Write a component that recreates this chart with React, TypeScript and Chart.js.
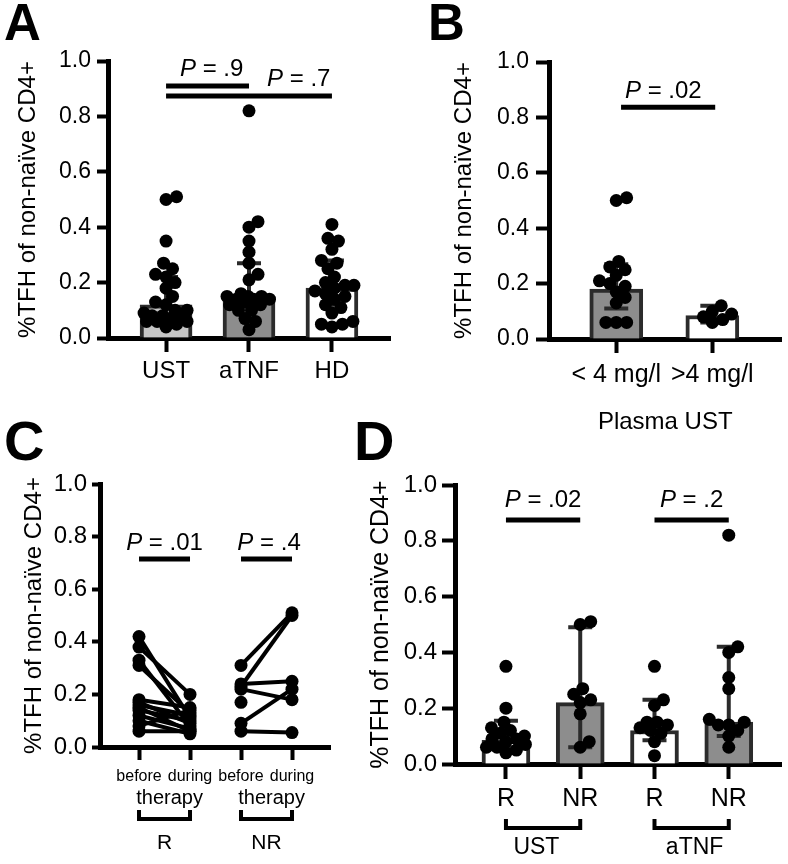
import React, { useEffect, useRef } from "react";
import { Chart, registerables } from "chart.js";

Chart.register(...registerables);

const FONT = "'Liberation Sans', Arial, Helvetica, sans-serif";
const CW = 788;
const CH = 864;

// ---------- shared axis ----------
const Y_TICKS = [0, 0.2, 0.4, 0.6, 0.8, 1.0];
const Y_TICK_LABELS = ["0.0", "0.2", "0.4", "0.6", "0.8", "1.0"];
const Y_TITLE = "%TFH of non-naïve CD4+";

// ---------- Panel A ----------
const A_CATEGORIES = ["UST", "aTNF", "HD"];
const A_UST = [0.51, 0.5, 0.35, 0.27, 0.25, 0.23, 0.22, 0.2, 0.18, 0.15, 0.13, 0.12, 0.1, 0.1, 0.09, 0.08, 0.08, 0.07, 0.07, 0.06, 0.06, 0.06, 0.05, 0.04];
const A_ATNF = [0.82, 0.42, 0.4, 0.35, 0.31, 0.27, 0.23, 0.21, 0.16, 0.15, 0.15, 0.15, 0.14, 0.14, 0.14, 0.13, 0.12, 0.12, 0.1, 0.1, 0.07, 0.06, 0.03];
const A_HD = [0.41, 0.36, 0.35, 0.32, 0.28, 0.27, 0.25, 0.22, 0.2, 0.19, 0.19, 0.18, 0.17, 0.16, 0.15, 0.14, 0.12, 0.11, 0.09, 0.06, 0.05, 0.05, 0.04];
const A_MEDIAN = [0.12, 0.15, 0.18];
const A_Q1 = [0.06, 0.12, 0.12];
const A_Q3 = [0.22, 0.27, 0.28];
const A_P_VALUES = [".9", ".7"];

// ---------- Panel B ----------
const B_CATEGORIES = ["< 4 mg/l", ">4 mg/l"];
const B_X_TITLE = "Plasma UST";
const B_LT4 = [0.51, 0.5, 0.28, 0.26, 0.25, 0.23, 0.21, 0.2, 0.19, 0.17, 0.15, 0.13, 0.06, 0.06, 0.06];
const B_GT4 = [0.12, 0.1, 0.09, 0.08, 0.07, 0.06];
const B_MEDIAN = [0.18, 0.085];
const B_Q1 = [0.11, 0.06];
const B_Q3 = [0.27, 0.12];
const B_P_VALUES = [".02"];

// ---------- Panel C ----------
const C_CATEGORIES = ["before", "during", "before", "during"];
const C_SUBLABEL = "therapy";
const C_GROUPS = ["R", "NR"];
const C_R_BEFORE = [0.42, 0.38, 0.33, 0.31, 0.18, 0.17, 0.16, 0.15, 0.14, 0.12, 0.1, 0.08, 0.06];
const C_R_DURING = [0.11, 0.2, 0.08, 0.13, 0.15, 0.09, 0.12, 0.06, 0.1, 0.07, 0.05, 0.14, 0.06];
const C_NR_BEFORE = [0.31, 0.23, 0.24, 0.22, 0.17, 0.09, 0.06];
const C_NR_DURING: (number | null)[] = [0.51, 0.5, 0.25, 0.18, null, 0.22, 0.055];
const C_P_VALUES = [".01", ".4"];

// ---------- Panel D ----------
const D_CATEGORIES = ["R", "NR", "R", "NR"];
const D_GROUPS = ["UST", "aTNF"];
const D_UST_R = [0.35, 0.2, 0.15, 0.13, 0.12, 0.11, 0.1, 0.09, 0.09, 0.08, 0.07, 0.06, 0.06, 0.05, 0.04];
const D_UST_NR = [0.51, 0.5, 0.27, 0.25, 0.23, 0.22, 0.18, 0.08, 0.06];
const D_ATNF_R = [0.35, 0.23, 0.21, 0.15, 0.15, 0.14, 0.13, 0.12, 0.11, 0.08, 0.03];
const D_ATNF_NR = [0.82, 0.42, 0.4, 0.31, 0.27, 0.16, 0.15, 0.14, 0.14, 0.12, 0.1, 0.06];
const D_MEDIAN = [0.085, 0.22, 0.12, 0.15];
const D_Q1 = [0.06, 0.06, 0.085, 0.1];
const D_Q3 = [0.155, 0.49, 0.23, 0.42];
const D_P_VALUES = [".02", ".2"];

// ---------- styles ----------
const BAR_BORDER = "#2b2b2b";
const ERR_COLOR = "#2b2b2b";
const LIGHT = "#c6c6c6";
const GRAY = "#8d8d8d";
const WHITE = "#ffffff";

type Geo = {
  left: number; top: number; right: number; bottom: number;
  yW: number; xH: number; xmin: number; xmax: number;
  yTL: number; yPad: number; yFont: number;
  xTL: number; xPad: number; xFont: number;
  titleSize: number; titlePad: number; barW: number;
};
type Sig = { x1: number; x2: number; y: number; tx: number; gap: number; label: string };
type Bracket = { x1: number; x2: number; y: number; h: number; label: string; tx: number; labelY: number; size: number };
type SubLabel = { tx: number; y: number; text: string; size: number };
type Letter = { text: string; x: number; y: number; size: number };

// beeswarm layout: bounded horizontal spread, points may overlap when crowded
function swarmOffsets(values: number[], pxPerX: number, pxPerY: number, minDist: number, maxOff: number): number[] {
  const order = values.map((_, i) => i).sort((a, b) => values[a] - values[b] || a - b);
  const cands: number[] = [0];
  for (let s = 0.5; s <= maxOff; s += 0.5) cands.push(s, -s);
  const placed: { x: number; y: number }[] = [];
  const out = new Array(values.length).fill(0);
  for (const i of order) {
    const y = values[i] * pxPerY;
    let chosen = 0;
    let bestD = -1;
    for (const c of cands) {
      let d = Infinity;
      for (const p of placed) d = Math.min(d, Math.hypot(p.x - c, p.y - y));
      if (d >= minDist) { chosen = c; bestD = d; break; }
      if (d > bestD + 0.01) { bestD = d; chosen = c; }
    }
    placed.push({ x: chosen, y });
    out[i] = chosen / pxPerX;
  }
  return out;
}

function extrasPlugin(spec: {
  letter: Letter; sigs: Sig[]; brackets?: Bracket[]; subs?: SubLabel[];
  errors?: { median: number[]; q1: number[]; q3: number[] };
}) {
  return {
    id: "extras",
    afterDatasetDraw(chart: any, args: any) {
      if (!spec.errors || args.meta.type !== "bar") return;
      const ctx = chart.ctx;
      const xs = chart.scales.x;
      const ys = chart.scales.y;
      ctx.save();
      ctx.strokeStyle = ERR_COLOR;
      ctx.lineWidth = 4;
      spec.errors.median.forEach((_, i) => {
        const x = xs.getPixelForValue(i + 1);
        const lo = ys.getPixelForValue(spec.errors!.q1[i]);
        const hi = ys.getPixelForValue(spec.errors!.q3[i]);
        ctx.beginPath();
        ctx.moveTo(x, lo);
        ctx.lineTo(x, hi);
        ctx.moveTo(x - 12, hi);
        ctx.lineTo(x + 12, hi);
        ctx.moveTo(x - 12, lo);
        ctx.lineTo(x + 12, lo);
        ctx.stroke();
      });
      ctx.restore();
    },
    afterDraw(chart: any) {
      const ctx = chart.ctx;
      const xs = chart.scales.x;
      const ys = chart.scales.y;
      ctx.save();
      ctx.fillStyle = "#000";
      ctx.strokeStyle = "#000";
      ctx.textBaseline = "alphabetic";
      // panel letter
      ctx.font = `bold ${spec.letter.size}px ${FONT}`;
      ctx.textAlign = "left";
      ctx.fillText(spec.letter.text, spec.letter.x, spec.letter.y);
      // significance bars
      for (const s of spec.sigs) {
        const x1 = xs.getPixelForValue(s.x1);
        const x2 = xs.getPixelForValue(s.x2);
        const y = ys.getPixelForValue(s.y);
        ctx.lineWidth = 5;
        ctx.beginPath();
        ctx.moveTo(x1, y);
        ctx.lineTo(x2, y);
        ctx.stroke();
        const it = `italic 24px ${FONT}`;
        const rg = `24px ${FONT}`;
        const rest = " = " + s.label;
        ctx.font = it;
        const wP = ctx.measureText("P").width;
        ctx.font = rg;
        const wR = ctx.measureText(rest).width;
        const cx = xs.getPixelForValue(s.tx);
        const start = cx - (wP + wR) / 2;
        ctx.textAlign = "left";
        ctx.font = it;
        ctx.fillText("P", start, y - s.gap);
        ctx.font = rg;
        ctx.fillText(rest, start + wP, y - s.gap);
      }
      // sub labels
      for (const t of spec.subs || []) {
        ctx.font = `${t.size}px ${FONT}`;
        ctx.textAlign = "center";
        ctx.fillText(t.text, xs.getPixelForValue(t.tx), t.y);
      }
      // brackets
      for (const b of spec.brackets || []) {
        const x1 = xs.getPixelForValue(b.x1);
        const x2 = xs.getPixelForValue(b.x2);
        ctx.lineWidth = 4;
        ctx.lineJoin = "miter";
        ctx.beginPath();
        ctx.moveTo(x1, b.y - b.h);
        ctx.lineTo(x1, b.y);
        ctx.lineTo(x2, b.y);
        ctx.lineTo(x2, b.y - b.h);
        ctx.stroke();
        ctx.font = `${b.size}px ${FONT}`;
        ctx.textAlign = "center";
        ctx.fillText(b.label, xs.getPixelForValue(b.tx), b.labelY);
      }
      ctx.restore();
    },
  };
}

function baseOptions(g: Geo, cats: string[], xTitle?: { text: string; size: number; pad: number }) {
  return {
    responsive: false,
    animation: false,
    devicePixelRatio: 1,
    events: [],
    layout: {
      padding: { left: g.left - g.yW, top: g.top, right: CW - g.right, bottom: CH - g.bottom - g.xH },
    },
    plugins: { legend: { display: false }, tooltip: { enabled: false }, title: { display: false } },
    scales: {
      x: {
        type: "linear",
        min: g.xmin,
        max: g.xmax,
        offset: false,
        afterFit: (s: any) => { s.height = g.xH; },
        afterBuildTicks: (s: any) => { s.ticks = cats.map((_, i) => ({ value: i + 1 })); },
        ticks: {
          callback: (_v: any, i: number) => cats[i],
          autoSkip: false,
          maxRotation: 0,
          minRotation: 0,
          padding: g.xPad,
          color: "#000",
          font: { family: FONT, size: g.xFont },
        },
        grid: { display: true, drawOnChartArea: false, drawTicks: true, tickLength: g.xTL, tickWidth: 4, tickColor: "#000", offset: false },
        border: { display: true, width: 5, color: "#000" },
        title: xTitle
          ? { display: true, text: xTitle.text, color: "#000", font: { family: FONT, size: xTitle.size }, padding: { top: 0, bottom: xTitle.pad } }
          : { display: false },
      },
      y: {
        type: "linear",
        min: 0,
        max: 1,
        afterFit: (s: any) => { s.width = g.yW; },
        afterBuildTicks: (s: any) => { s.ticks = Y_TICKS.map((v) => ({ value: v })); },
        ticks: {
          callback: (_v: any, i: number) => Y_TICK_LABELS[i],
          padding: g.yPad,
          color: "#000",
          font: { family: FONT, size: g.yFont },
        },
        grid: { display: true, drawOnChartArea: false, drawTicks: true, tickLength: g.yTL, tickWidth: 4, tickColor: "#000" },
        border: { display: true, width: 5, color: "#000" },
        title: {
          display: true,
          text: Y_TITLE,
          color: "#000",
          font: { family: FONT, size: g.titleSize },
          padding: { top: g.titlePad, bottom: 0 },
        },
      },
    },
  };
}

function barPanel(o: {
  cats: string[]; groups: number[][]; median: number[]; q1: number[]; q3: number[]; fills: string[];
  g: Geo; sigs: Sig[]; letter: Letter; brackets?: Bracket[]; xTitle?: { text: string; size: number; pad: number };
}) {
  const pxX = (o.g.right - o.g.left) / (o.g.xmax - o.g.xmin);
  const pxY = o.g.bottom - o.g.top;
  const points = o.groups.flatMap((vals, gi) => {
    const offs = swarmOffsets(vals, pxX, pxY, 10.5, o.g.barW / 2 - 4);
    return vals.map((v, i) => ({ x: gi + 1 + offs[i], y: v }));
  });
  return {
    type: "scatter",
    data: {
      datasets: [
        {
          type: "bar",
          data: o.median.map((m, i) => ({ x: i + 1, y: m })),
          backgroundColor: o.fills,
          borderColor: BAR_BORDER,
          borderWidth: 4,
          borderSkipped: "start",
          barThickness: o.g.barW,
          order: 2,
        },
        {
          type: "scatter",
          data: points,
          pointRadius: 6.5,
          pointBackgroundColor: "#000",
          pointBorderWidth: 0,
          order: 1,
        },
      ],
    },
    options: baseOptions(o.g, o.cats, o.xTitle),
    plugins: [
      extrasPlugin({ letter: o.letter, sigs: o.sigs, brackets: o.brackets, errors: { median: o.median, q1: o.q1, q3: o.q3 } }),
    ],
  };
}

// ---------- geometry ----------
const GEO_A: Geo = { left: 108, top: 61, right: 390, bottom: 338, yW: 100, xH: 60, xmin: 0.3, xmax: 3.7, yTL: 11, yPad: 6, yFont: 23, xTL: 14, xPad: 5, xFont: 24, titleSize: 24, titlePad: 5.6, barW: 52 };
const GEO_B: Geo = { left: 549, top: 62, right: 784, bottom: 339, yW: 100, xH: 100, xmin: 0.3, xmax: 2.72, yTL: 13, yPad: 7, yFont: 23, xTL: 14, xPad: 7, xFont: 25, titleSize: 24, titlePad: 0.6, barW: 53 };
const GEO_C: Geo = { left: 100, top: 484, right: 330, bottom: 747, yW: 81, xH: 60, xmin: 0.235, xmax: 4.745, yTL: 8, yPad: 5, yFont: 24, xTL: 13, xPad: 7, xFont: 16, titleSize: 24, titlePad: 0.6, barW: 0 };
const GEO_D: Geo = { left: 455, top: 485, right: 782, bottom: 764, yW: 90, xH: 60, xmin: 0.314, xmax: 4.71, yTL: 13, yPad: 5, yFont: 24, xTL: 15, xPad: 5, xFont: 25, titleSize: 25, titlePad: 1, barW: 48 };

function makeA() {
  return barPanel({
    cats: A_CATEGORIES,
    groups: [A_UST, A_ATNF, A_HD],
    median: A_MEDIAN, q1: A_Q1, q3: A_Q3,
    fills: [LIGHT, GRAY, WHITE],
    g: GEO_A,
    letter: { text: "A", x: 4, y: 40, size: 51 },
    sigs: [
      { x1: 1, x2: 2, y: 0.91, tx: 1.55, gap: 10, label: A_P_VALUES[0] },
      { x1: 1, x2: 3, y: 0.874, tx: 2.6, gap: 10, label: A_P_VALUES[1] },
    ],
  });
}

function makeB() {
  return barPanel({
    cats: B_CATEGORIES,
    groups: [B_LT4, B_GT4],
    median: B_MEDIAN, q1: B_Q1, q3: B_Q3,
    fills: [GRAY, WHITE],
    g: GEO_B,
    letter: { text: "B", x: 428, y: 40, size: 51 },
    sigs: [{ x1: 1.05, x2: 2.03, y: 0.837, tx: 1.49, gap: 9, label: B_P_VALUES[0] }],
    xTitle: { text: B_X_TITLE, size: 24, pad: 2.6 },
  });
}

function makeC() {
  const g = GEO_C;
  const pairs = [
    ...C_R_BEFORE.map((b, i) => [{ x: 1, y: b }, { x: 2, y: C_R_DURING[i] }]),
    ...C_NR_BEFORE.map((b, i) =>
      C_NR_DURING[i] == null ? [{ x: 3, y: b }] : [{ x: 3, y: b }, { x: 4, y: C_NR_DURING[i] as number }]
    ),
  ];
  return {
    type: "scatter",
    data: {
      datasets: pairs.map((p) => ({
        type: "scatter",
        showLine: true,
        data: p,
        borderColor: "#000",
        borderWidth: 4,
        pointRadius: 6.5,
        pointBackgroundColor: "#000",
        pointBorderWidth: 0,
      })),
    },
    options: baseOptions(g, C_CATEGORIES),
    plugins: [
      extrasPlugin({
        letter: { text: "C", x: 4, y: 460, size: 56 },
        sigs: [
          { x1: 1, x2: 2, y: 0.715, tx: 1.5, gap: 9, label: C_P_VALUES[0] },
          { x1: 3, x2: 4, y: 0.715, tx: 3.55, gap: 9, label: C_P_VALUES[1] },
        ],
        subs: [
          { tx: 1.6, y: 804, text: C_SUBLABEL, size: 20 },
          { tx: 3.6, y: 804, text: C_SUBLABEL, size: 20 },
        ],
        brackets: [
          { x1: 1, x2: 2, y: 819, h: 9, label: C_GROUPS[0], tx: 1.5, labelY: 849, size: 21 },
          { x1: 3, x2: 4, y: 819, h: 9, label: C_GROUPS[1], tx: 3.5, labelY: 849, size: 21 },
        ],
      }),
    ],
  };
}

function makeD() {
  return barPanel({
    cats: D_CATEGORIES,
    groups: [D_UST_R, D_UST_NR, D_ATNF_R, D_ATNF_NR],
    median: D_MEDIAN, q1: D_Q1, q3: D_Q3,
    fills: [WHITE, GRAY, WHITE, GRAY],
    g: GEO_D,
    letter: { text: "D", x: 354, y: 460, size: 56 },
    sigs: [
      { x1: 1, x2: 2, y: 0.875, tx: 1.5, gap: 13, label: D_P_VALUES[0] },
      { x1: 3, x2: 4, y: 0.875, tx: 3.5, gap: 13, label: D_P_VALUES[1] },
    ],
    brackets: [
      { x1: 1, x2: 2, y: 828, h: 9, label: D_GROUPS[0], tx: 1.41, labelY: 854, size: 23 },
      { x1: 3, x2: 4, y: 828, h: 9, label: D_GROUPS[1], tx: 3.54, labelY: 854, size: 23 },
    ],
  });
}

function ChartCanvas({ make }: { make: () => any }) {
  const ref = useRef<HTMLCanvasElement | null>(null);
  useEffect(() => {
    if (!ref.current) return;
    const chart = new Chart(ref.current, make());
    return () => chart.destroy();
  }, [make]);
  return (
    <canvas
      ref={ref}
      width={CW}
      height={CH}
      style={{ position: "absolute", left: 0, top: 0, width: CW, height: CH }}
    />
  );
}

export default function App() {
  return (
    <div style={{ position: "absolute", left: 0, top: 0, width: CW, height: CH, background: "#fff", overflow: "hidden" }}>
      <ChartCanvas make={makeA} />
      <ChartCanvas make={makeB} />
      <ChartCanvas make={makeC} />
      <ChartCanvas make={makeD} />
    </div>
  );
}
